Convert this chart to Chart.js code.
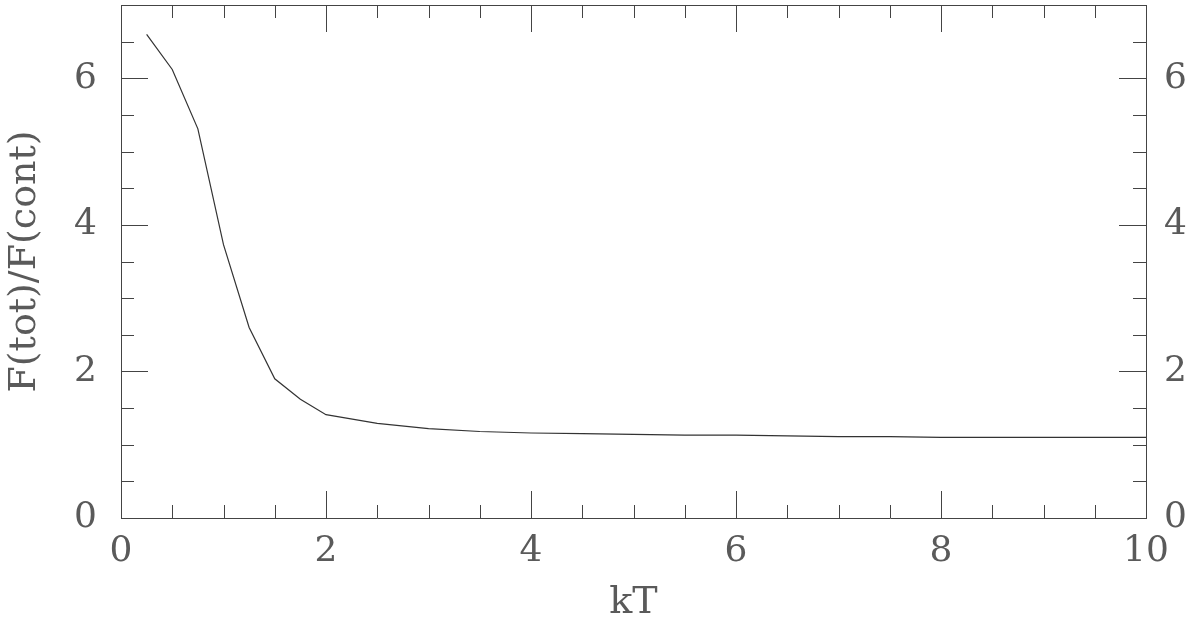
<!DOCTYPE html>
<html>
<head>
<meta charset="utf-8">
<script src="https://cdn.jsdelivr.net/npm/chart.js@4"></script>
<style>
  html, body { margin: 0; padding: 0; background: #fff; }
  #wrap { width: 1200px; height: 626px; }
</style>
</head>
<body>
<div id="wrap"><canvas id="chart" width="1200" height="626"></canvas></div>
<script>
// data
const kT = [0.25, 0.5, 0.75, 1.0, 1.25, 1.5, 1.75, 2.0, 2.5, 3.0, 3.5, 4.0, 4.5, 5.0,
  5.5, 6.0, 6.5, 7.0, 7.5, 8.0, 8.5, 9.0, 9.5, 10.0];
const ratio = [6.60, 6.12, 5.31, 3.73, 2.60, 1.90, 1.62, 1.41, 1.29, 1.22, 1.18, 1.16, 1.15, 1.14,
  1.13, 1.13, 1.12, 1.11, 1.11, 1.10, 1.10, 1.10, 1.10, 1.10];

// tick marks (inside the frame), major ones get labels
const xTicks = [0, 0.5, 1, 1.5, 2, 2.5, 3, 3.5, 4, 4.5, 5, 5.5, 6, 6.5, 7, 7.5, 8, 8.5, 9, 9.5, 10];
const xMajor = [0, 2, 4, 6, 8, 10];
const yTicks = [0, 0.5, 1, 1.5, 2, 2.5, 3, 3.5, 4, 4.5, 5, 5.5, 6, 6.5, 7];
const yMajor = [0, 2, 4, 6];

const ink = "#444";
const textInk = "#5a5a5a";
const fontFam = "'DejaVu Serif', 'Liberation Serif', serif";

// draws the inward ticks on all four sides of the frame
const innerTicks = {
  id: "innerTicks",
  afterDatasetsDraw(chart) {
    const { ctx, chartArea: a, scales } = chart;
    ctx.save();
    ctx.strokeStyle = ink;
    ctx.lineWidth = 1;
    xTicks.forEach((v) => {
      const px = Math.round(scales.x.getPixelForValue(v)) + 0.5;
      const len = xMajor.includes(v) ? 27 : 13;
      ctx.beginPath();
      ctx.moveTo(px, a.bottom); ctx.lineTo(px, a.bottom - len);
      ctx.moveTo(px, a.top); ctx.lineTo(px, a.top + len);
      ctx.stroke();
    });
    yTicks.forEach((v) => {
      const py = Math.round(scales.y.getPixelForValue(v)) + 0.5;
      const len = yMajor.includes(v) ? 27 : 13;
      ctx.beginPath();
      ctx.moveTo(a.left, py); ctx.lineTo(a.left + len, py);
      ctx.moveTo(a.right, py); ctx.lineTo(a.right - len, py);
      ctx.stroke();
    });
    ctx.restore();
  },
};

const tickFont = { family: fontFam, size: 36 };
const border = { display: true, color: ink, width: 1 };
const noPad = (s) => { s.paddingTop = 0; s.paddingBottom = 0; s.paddingLeft = 0; s.paddingRight = 0; };
const onlyMajor = (list) => (s) => { s.ticks = list.map((v) => ({ value: v })); };

new Chart(document.getElementById("chart"), {
  type: "line",
  data: {
    datasets: [{
      data: kT.map((k, i) => ({ x: k, y: ratio[i] })),
      borderColor: "#333",
      borderWidth: 1.2,
      pointRadius: 0,
      tension: 0,
      fill: false,
    }],
  },
  options: {
    responsive: false,
    animation: false,
    layout: { padding: 0 },
    plugins: { legend: { display: false }, tooltip: { enabled: false } },
    scales: {
      x: {
        type: "linear", position: "bottom", min: 0, max: 10,
        grid: { display: false, drawTicks: false },
        border: border,
        ticks: { color: textInk, font: tickFont, padding: 12, maxRotation: 0 },
        afterBuildTicks: onlyMajor(xMajor),
        title: { display: true, text: "kT", color: textInk, font: { family: fontFam, size: 38 }, padding: { top: 0, bottom: 0 } },
        afterFit: (s) => { noPad(s); s.height = 108; },
      },
      x2: {
        type: "linear", position: "top", min: 0, max: 10,
        grid: { display: false, drawTicks: false },
        border: border,
        ticks: { display: false },
        afterFit: (s) => { noPad(s); s.height = 5; },
      },
      y: {
        type: "linear", position: "left", min: 0, max: 7,
        grid: { display: false, drawTicks: false },
        border: border,
        ticks: { color: textInk, font: tickFont, padding: 24 },
        afterBuildTicks: onlyMajor(yMajor),
        title: { display: true, text: "F(tot)/F(cont)", color: textInk, font: { family: fontFam, size: 38 }, padding: { top: 2, bottom: 0 } },
        afterFit: (s) => { noPad(s); s.width = 121; },
      },
      y2: {
        type: "linear", position: "right", min: 0, max: 7,
        grid: { display: false, drawTicks: false },
        border: border,
        ticks: { color: textInk, font: tickFont, padding: 18 },
        afterBuildTicks: onlyMajor(yMajor),
        afterFit: (s) => { noPad(s); s.width = 54; },
      },
    },
  },
  plugins: [innerTicks],
});
</script>
</body>
</html>
